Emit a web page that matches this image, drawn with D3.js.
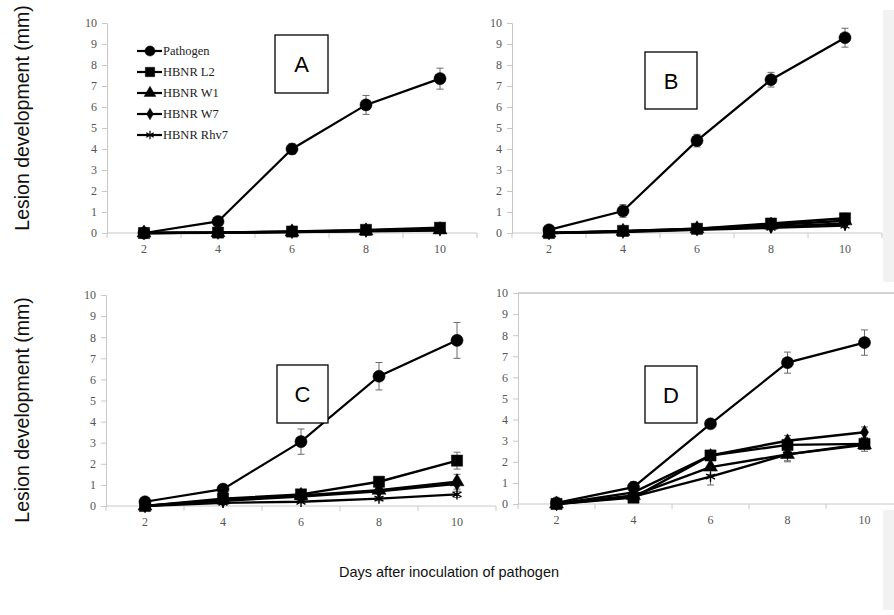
<!DOCTYPE html>
<html>
<head>
<meta charset="utf-8">
<script src="https://cdn.jsdelivr.net/npm/d3@7"></script>
<style>
  body { margin: 0; background: #fff; }
  svg { display: block; }
</style>
</head>
<body>
<svg id="chart" width="894" height="615"></svg>
<script>
const days = [2, 4, 6, 8, 10];
const seriesNames = ["Pathogen", "HBNR L2", "HBNR W1", "HBNR W7", "HBNR Rhv7"];
const yTicks = [0, 1, 2, 3, 4, 5, 6, 7, 8, 9, 10];

// panel A
const aPathogen = [0, 0.55, 4.0, 6.1, 7.35];
const aPathogenErr = [0, 0.12, 0.25, 0.45, 0.5];
const aL2 = [0, 0.02, 0.07, 0.15, 0.25];
const aW1 = [0, 0.02, 0.05, 0.1, 0.15];
const aW7 = [0, 0.02, 0.06, 0.12, 0.2];
const aRhv7 = [0, 0.01, 0.04, 0.08, 0.12];

// panel B
const bPathogen = [0.15, 1.05, 4.4, 7.3, 9.3];
const bPathogenErr = [0.05, 0.3, 0.3, 0.35, 0.45];
const bL2 = [0, 0.1, 0.2, 0.45, 0.7];
const bW1 = [0, 0.08, 0.2, 0.38, 0.58];
const bW7 = [0, 0.07, 0.18, 0.3, 0.45];
const bRhv7 = [0, 0.05, 0.15, 0.25, 0.35];

// panel C
const cPathogen = [0.2, 0.8, 3.05, 6.15, 7.85];
const cPathogenErr = [0.05, 0.2, 0.6, 0.65, 0.85];
const cL2 = [0, 0.35, 0.55, 1.15, 2.15];
const cL2Err = [0, 0.05, 0.1, 0.15, 0.4];
const cW1 = [0, 0.3, 0.5, 0.75, 1.15];
const cW1Err = [0, 0.05, 0.1, 0.15, 0.35];
const cW7 = [0, 0.25, 0.45, 0.7, 1.05];
const cRhv7 = [0, 0.15, 0.2, 0.35, 0.55];
const cRhv7Err = [0, 0.05, 0.05, 0.1, 0.15];

// panel D
const dPathogen = [0.05, 0.8, 3.8, 6.7, 7.65];
const dPathogenErr = [0.05, 0.25, 0.15, 0.5, 0.6];
const dL2 = [0, 0.3, 2.3, 2.8, 2.85];
const dW1 = [0, 0.4, 1.75, 2.35, 2.8];
const dW1Err = [0, 0.1, 0.35, 0.35, 0.3];
const dW7 = [0, 0.55, 2.3, 3.0, 3.4];
const dW7Err = [0, 0.1, 0.2, 0.25, 0.25];
const dRhv7 = [0, 0.35, 1.3, 2.35, 2.85];
const dRhv7Err = [0, 0.1, 0.4, 0.3, 0.2];

const symbols = [d3.symbolCircle, d3.symbolSquare, d3.symbolTriangle, d3.symbolDiamond, d3.symbolAsterisk];
const symSize = [115, 125, 85, 55, 75];

const panels = [
  { letter: "A", left: 107, right: 477, top: 23, bottom: 233, box: [275, 35, 53, 58],
    series: [aPathogen, aL2, aW1, aW7, aRhv7], errs: [aPathogenErr, null, null, null, null], legend: true },
  { letter: "B", left: 512, right: 882, top: 23, bottom: 233, box: [645, 52, 52, 57],
    series: [bPathogen, bL2, bW1, bW7, bRhv7], errs: [bPathogenErr, null, null, null, null] },
  { letter: "C", left: 106, right: 496, top: 295, bottom: 506, box: [277, 365, 51, 58],
    series: [cPathogen, cL2, cW1, cW7, cRhv7], errs: [cPathogenErr, cL2Err, cW1Err, null, cRhv7Err] },
  { letter: "D", left: 518, right: 903, top: 293, bottom: 504, box: [645, 366, 52, 57],
    series: [dPathogen, dL2, dW1, dW7, dRhv7], errs: [dPathogenErr, null, dW1Err, dW7Err, dRhv7Err], topLine: true }
];

const svg = d3.select("#chart");

// faint strips on the right edge of the scan
svg.append("rect").attr("x", 883).attr("y", 10).attr("width", 11).attr("height", 272).attr("fill", "#f2f2f2");
svg.append("rect").attr("x", 883).attr("y", 510).attr("width", 11).attr("height", 100).attr("fill", "#f2f2f2");

panels.forEach(drawPanel);

function drawPanel(p) {
  const g = svg.append("g");
  const x = d3.scaleBand().domain(days).range([p.left, p.right]);
  const y = d3.scaleLinear().domain([0, 10]).range([p.bottom, p.top]);
  const cx = d => x(d) + x.bandwidth() / 2;

  if (p.topLine) {
    g.append("line").attr("x1", p.left).attr("x2", p.right).attr("y1", p.top).attr("y2", p.top)
      .attr("stroke", "#a6a6a6").attr("stroke-width", 1.2);
  }

  // y axis
  const ya = g.append("g").attr("transform", `translate(${p.left},0)`)
    .call(d3.axisLeft(y).tickValues(yTicks).tickSize(5).tickPadding(5));
  ya.select(".domain").attr("stroke", "#c8c8c8");
  ya.selectAll(".tick line").attr("stroke", "#c8c8c8");
  ya.selectAll("text").attr("font-family", "Liberation Serif, serif").attr("font-size", 12).attr("fill", "#555");

  // x axis: ticks between categories
  const xa = g.append("g").attr("transform", `translate(0,${p.bottom})`);
  xa.append("line").attr("x1", p.left).attr("x2", p.right).attr("stroke", "#c8c8c8");
  const bounds = days.map(d => x(d)).concat([p.right]);
  xa.selectAll("line.tk").data(bounds).join("line").attr("class", "tk")
    .attr("x1", d => d).attr("x2", d => d).attr("y1", 0).attr("y2", 5).attr("stroke", "#c8c8c8");
  xa.selectAll("text").data(days).join("text")
    .attr("x", cx).attr("y", 20).attr("text-anchor", "middle")
    .attr("font-family", "Liberation Serif, serif").attr("font-size", 12).attr("fill", "#555")
    .text(d => d);

  // lines
  const line = d3.line().x((v, i) => cx(days[i])).y(v => y(v));
  p.series.forEach((vals, si) => {
    g.append("path").datum(vals).attr("d", line)
      .attr("fill", "none").attr("stroke", "#000").attr("stroke-width", si === 0 ? 2.2 : 2.4);
  });

  // error bars
  p.errs.forEach((errs, si) => {
    if (!errs) return;
    const vals = p.series[si];
    const eb = g.append("g").attr("stroke", "#6a6a6a").attr("stroke-width", 1);
    days.forEach((d, i) => {
      if (errs[i] <= 0.06) return;
      const xx = cx(d);
      eb.append("line").attr("x1", xx).attr("x2", xx).attr("y1", y(vals[i] - errs[i])).attr("y2", y(vals[i] + errs[i]));
      [vals[i] - errs[i], vals[i] + errs[i]].forEach(v => {
        eb.append("line").attr("x1", xx - 3.5).attr("x2", xx + 3.5).attr("y1", y(v)).attr("y2", y(v));
      });
    });
  });

  // markers
  p.series.forEach((vals, si) => {
    const sym = d3.symbol(symbols[si], symSize[si]);
    g.selectAll(null).data(vals).join("path")
      .attr("transform", (v, i) => `translate(${cx(days[i])},${y(v)})`)
      .attr("d", sym)
      .attr("fill", si === 4 ? "none" : "#000")
      .attr("stroke", "#000").attr("stroke-width", si === 4 ? 1.4 : 0.5);
  });

  // panel letter box
  const [bx, by, bw, bh] = p.box;
  g.append("rect").attr("x", bx).attr("y", by).attr("width", bw).attr("height", bh)
    .attr("fill", "#fff").attr("stroke", "#000").attr("stroke-width", 1.3);
  g.append("text").attr("x", bx + bw / 2).attr("y", by + bh / 2 + 8).attr("text-anchor", "middle")
    .attr("font-family", "Liberation Sans, Arial, sans-serif").attr("font-size", 22).text(p.letter);

  if (p.legend) {
    const lg = g.append("g");
    seriesNames.forEach((name, si) => {
      const ly = 51 + si * 21;
      lg.append("line").attr("x1", 137).attr("x2", 162).attr("y1", ly).attr("y2", ly)
        .attr("stroke", "#000").attr("stroke-width", 2.2);
      lg.append("path").attr("transform", `translate(150,${ly})`)
        .attr("d", d3.symbol(symbols[si], symSize[si] * 0.7))
        .attr("fill", si === 4 ? "none" : "#000").attr("stroke", "#000").attr("stroke-width", si === 4 ? 1.2 : 0.5);
      lg.append("text").attr("x", 163).attr("y", ly + 4)
        .attr("font-family", "Liberation Serif, serif").attr("font-size", 12.5).attr("fill", "#222")
        .text(name);
    });
  }
}

// axis titles
const title = (x, y, rot, size, txt) => svg.append("text")
  .attr("transform", `translate(${x},${y}) rotate(${rot})`)
  .attr("text-anchor", "middle")
  .attr("font-family", "Liberation Sans, Arial, sans-serif").attr("font-size", size).attr("fill", "#111")
  .text(txt);
title(29, 118, -90, 19.5, "Lesion development (mm)");
title(29, 410, -90, 19.5, "Lesion development (mm)");
title(449, 577, 0, 14.5, "Days after inoculation of pathogen");
</script>
</body>
</html>
